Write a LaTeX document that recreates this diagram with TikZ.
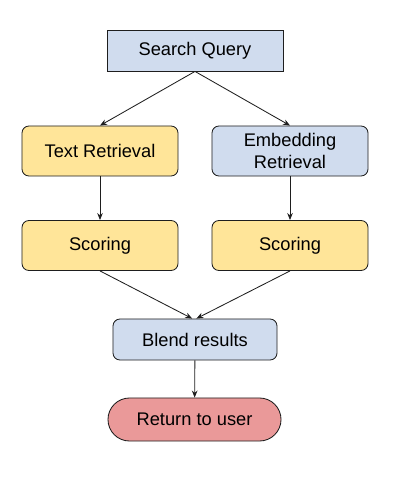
\documentclass[tikz,border=0pt]{standalone}
\usepackage{fontspec}
\setmainfont{Liberation Sans}
\usepackage{tikz}
\usetikzlibrary{arrows.meta,shapes.misc}

\definecolor{qblue}{RGB}{208,220,238}
\definecolor{qyellow}{RGB}{255,229,153}
\definecolor{qred}{RGB}{234,153,153}
\definecolor{qline}{RGB}{30,30,30}

\begin{document}
\begin{tikzpicture}[x=0.025cm, y=-0.025cm,
  box/.style={draw=qline, line width=0.6pt, align=center, inner sep=0pt,
    font=\fontsize{13}{15.5}\selectfont},
  querybox/.style={box, fill=qblue, minimum width=4.4cm, minimum height=1.025cm},
  stagebox/.style={box, rounded corners=5pt, minimum width=3.9cm, minimum height=1.25cm},
  endbox/.style={box, fill=qred, rounded rectangle, minimum width=4.325cm, minimum height=1.075cm},
  flow/.style={draw=qline, line width=0.6pt, -{Stealth[length=5pt,width=4pt]}}]

% Drawing window
\useasboundingbox (0,0) rectangle (404,478);

% Boxes
\node[querybox] (query) at (195,50.5) {Search Query};
\node[stagebox, fill=qyellow] (text) at (100,151) {Text Retrieval};
\node[stagebox, fill=qblue] (embed) at (290,151) {Embedding\\Retrieval};
\node[stagebox, fill=qyellow] (scoreL) at (100,245.5) {Scoring};
\node[stagebox, fill=qyellow] (scoreR) at (290,245.5) {Scoring};
\node[stagebox, fill=qblue, minimum width=4.1cm, minimum height=1.025cm] (blend) at (195,339.5) {Blend results};
\node[endbox] (user) at (194.5,419.5) {Return to user};

% Arrows
\draw[flow] (query.south) -- (text.north);
\draw[flow] (query.south) -- (embed.north);
\draw[flow] (text) -- (scoreL);
\draw[flow] (embed) -- (scoreR);
\draw[flow] (scoreL.south) -- ([xshift=-2pt]blend.north);
\draw[flow] (scoreR.south) -- ([xshift=1pt]blend.north);
\draw[flow] (blend) -- (user);

\end{tikzpicture}
\end{document}
